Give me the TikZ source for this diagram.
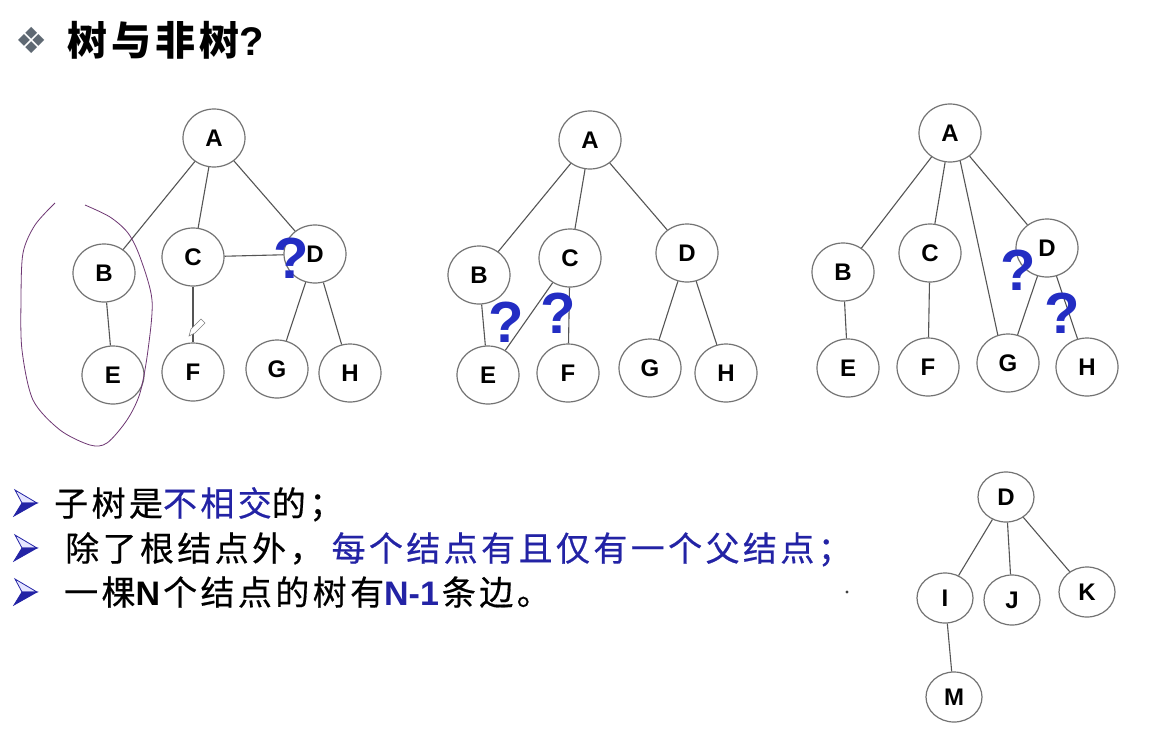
\documentclass[tikz,border=0pt]{standalone}
\usepackage{fontspec}
\setmainfont{Liberation Sans}
\newfontfamily\cjk[LetterSpace=10,FakeBold=0.5]{Noto Sans CJK SC}
\newfontfamily\cjkt[LetterSpace=10]{Noto Sans CJK SC}
\newfontfamily\lat{Liberation Sans}
\newfontfamily\dejavu{DejaVu Sans}
\usetikzlibrary{shapes.geometric}
\definecolor{edgec}{RGB}{85,85,85}
\definecolor{ringc}{RGB}{115,115,115}
\definecolor{txtblue}{RGB}{35,35,165}
\definecolor{qblue}{RGB}{35,45,195}
\definecolor{penc}{RGB}{110,55,115}
\definecolor{diamc}{RGB}{95,105,115}
\begin{document}
\begin{tikzpicture}[x=1pt,y=-1pt,
  tn/.style={ellipse, draw=ringc, line width=1.2pt, fill=white, minimum width=62pt, minimum height=58pt, inner sep=0pt, font=\fontsize{24}{24}\selectfont\bfseries},
  sn/.style={tn, minimum width=56pt, minimum height=50pt},
  ed/.style={draw=edgec, line width=1.1pt},
  qm/.style={text=qblue, font=\fontsize{58}{58}\selectfont\bfseries, inner sep=0pt},
  bl/.style={anchor=base west, inner sep=0pt, font=\cjk\fontsize{34}{34}\selectfont},
  arrowbul/.pic={
    \filldraw[draw=txtblue, fill=blue!10, line width=0.8pt] (1,-13) -- (23,0) -- (8,0) -- cycle;
    \filldraw[draw=txtblue, fill=txtblue, line width=0.8pt] (8,0) -- (23,0) -- (0,13) -- cycle;
  }
]
\useasboundingbox[fill=white] (0,0) rectangle (1175,737);

% title
\node[anchor=west, text=diamc, inner sep=0pt] (dia) at (15,40) {\dejavu\fontsize{36}{36}\selectfont ❖};
\node[anchor=west, inner sep=0pt] (title) at (67,40) {\cjkt\fontsize{40}{40}\selectfont\bfseries 树与非树{\rmfamily\bfseries ?}};

% ---------- tree 1 ----------
\node[tn] (aA) at (214,138) {A};
\node[tn] (aB) at (104,273) {B};
\node[tn] (aC) at (193,257) {C};
\node[tn] (aD) at (315,254) {D};
\node[tn] (aE) at (113,375) {E};
\node[tn] (aF) at (193,372) {F};
\node[tn] (aG) at (277,369) {G};
\node[tn] (aH) at (350,373) {H};
\draw[ed] (aA) -- (aB);
\draw[ed] (aA) -- (aC);
\draw[ed] (aA) -- (aD);
\draw[ed] (aB) -- (aE);
\draw[ed] (aC) -- (aF);
\draw[ed] (aC) -- (aD);
\draw[ed] (aD) -- (aG);
\draw[ed] (aD) -- (aH);
\node[qm] (aQ) at (291,258) {?};
% hand-drawn loop
\draw[penc, line width=0.8pt] plot[smooth] coordinates {(55,203) (35,225) (23,253) (21,300) (22,350) (33,400) (60,430) (90,445) (107,443) (127,420) (140,393) (148,350) (152,300) (140,257) (128,233) (110,217) (85,205)};
% pencil cursor
\draw[gray, fill=white, line width=0.6pt] (189,336) -- (191,329) -- (201,319) -- (205,323) -- (195,333) -- cycle;

% ---------- tree 2 ----------
\node[tn] (bA) at (590,140) {A};
\node[tn] (bB) at (479,275) {B};
\node[tn] (bC) at (570,258) {C};
\node[tn] (bD) at (687,253) {D};
\node[tn] (bE) at (488,375) {E};
\node[tn] (bF) at (568,373) {F};
\node[tn] (bG) at (650,368) {G};
\node[tn] (bH) at (726,373) {H};
\draw[ed] (bA) -- (bB);
\draw[ed] (bA) -- (bC);
\draw[ed] (bA) -- (bD);
\draw[ed] (bB) -- (bE);
\draw[ed] (bC) -- (bE);
\draw[ed] (bC) -- (bF);
\draw[ed] (bD) -- (bG);
\draw[ed] (bD) -- (bH);
\node[qm] (bQ1) at (506,322) {?};
\node[qm] (bQ2) at (558,313) {?};

% ---------- tree 3 ----------
\node[tn] (cA) at (950,133) {A};
\node[tn] (cB) at (843,272) {B};
\node[tn] (cC) at (930,253) {C};
\node[tn] (cD) at (1047,248) {D};
\node[tn] (cE) at (848,368) {E};
\node[tn] (cF) at (928,367) {F};
\node[tn] (cG) at (1008,363) {G};
\node[tn] (cH) at (1087,367) {H};
\draw[ed] (cA) -- (cB);
\draw[ed] (cA) -- (cC);
\draw[ed] (cA.-70) -- (cG.110);
\draw[ed] (cA) -- (cD);
\draw[ed] (cB) -- (cE);
\draw[ed] (cC) -- (cF);
\draw[ed] (cD) -- (cG);
\draw[ed] (cD) -- (cH);
\node[qm] (cQ1) at (1018,270) {?};
\node[qm] (cQ2) at (1062,313) {?};

% ---------- tree 4 ----------
\node[sn] (dD) at (1006,497) {D};
\node[sn] (dI) at (945,598) {I};
\node[sn] (dJ) at (1012,600) {J};
\node[sn] (dK) at (1087,592) {K};
\node[sn] (dM) at (954,697) {M};
\draw[ed] (dD) -- (dI);
\draw[ed] (dD) -- (dJ);
\draw[ed] (dD) -- (dK);
\draw[ed] (dI) -- (dM);

% ---------- bullets ----------
\pic at (14,503) {arrowbul};
\pic at (14,548) {arrowbul};
\pic at (14,592) {arrowbul};
\node[bl] (l1) at (54,516) {子树是\textcolor{txtblue}{不相交}的；};
\node[bl] (l2) at (65,561) {除了根结点外，\hspace{8pt}\textcolor{txtblue}{每个结点有且仅有一个父结点；}};
\node[bl] (l3) at (64,605) {一棵{\lat\bfseries N\hspace{3pt}}个结点的树有\textcolor{txtblue}{\lat\bfseries N-1\hspace{3pt}}条边。};
\fill[black!75] (847,592) circle (1.6);
\end{tikzpicture}
\end{document}
